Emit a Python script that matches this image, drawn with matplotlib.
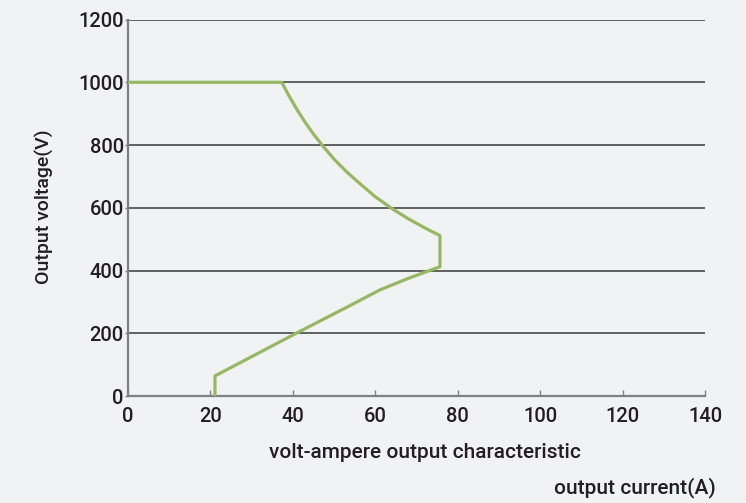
import matplotlib
matplotlib.use("Agg")
import matplotlib.pyplot as plt

# output current (A) vs output voltage (V)
current = [0, 37.3, 39.0, 41.0, 43.0, 45.0, 47.2, 50.0, 53.0, 56.0, 60.0, 64.2, 68.0, 72.0, 75.7,
           75.7, 68.0, 61.1, 53.1, 40.8, 33.7, 21.1, 21.1]
voltage = [1000, 1000, 958, 913, 872, 835, 798, 755, 715, 680, 635, 596, 565, 536, 511,
           412, 375, 338, 283, 200, 151, 64, 0]

x_ticks = [0, 20, 40, 60, 80, 100, 120, 140]
y_ticks = [0, 200, 400, 600, 800, 1000, 1200]

bg = "#f1f2f4"
green = "#97b863"
text_color = "#231f20"

plt.rcParams["font.family"] = ["Roboto", "DejaVu Sans"]

fig = plt.figure(figsize=(7.46, 5.03), dpi=100, facecolor=bg)
ax = fig.add_axes([0.1716, 0.2127, 0.945 - 0.1716, 0.9612 - 0.2127])
ax.set_facecolor(bg)

for y in y_ticks[1:]:
    ax.axhline(y, color="#3a3a3a", lw=1.1, zorder=1)

ax.plot(current, voltage, color=green, lw=2.3, zorder=3, solid_joinstyle="round")

ax.set_xlim(0, 140)
ax.set_ylim(0, 1200)
ax.set_xticks(x_ticks)
ax.set_yticks(y_ticks)

for s in ["top", "right"]:
    ax.spines[s].set_visible(False)
for s in ["left", "bottom"]:
    ax.spines[s].set_color("#808080")
    ax.spines[s].set_linewidth(1.6)

ax.tick_params(axis="x", direction="in", length=4, width=1, color="#808080",
               pad=8, labelsize=14.5, labelcolor=text_color)
ax.tick_params(axis="y", direction="out", length=2, width=1, color="#808080",
               pad=1, labelsize=14.5, labelcolor=text_color)
for lab in ax.get_xticklabels() + ax.get_yticklabels():
    lab.set_fontweight("medium")

fig.text(44 / 746, 1 - 207 / 503, "Output voltage(V)", rotation=90, ha="center", va="center",
         fontsize=14, fontweight="medium", color=text_color)
fig.text(425 / 746, 1 - 453 / 503, "volt-ampere output characteristic", ha="center", va="center",
         fontsize=15, fontweight="medium", color=text_color)
fig.text(716 / 746, 1 - 488 / 503, "output current(A)", ha="right", va="center",
         fontsize=15, fontweight="medium", color=text_color)

fig.savefig("out.png", dpi=100, facecolor=bg)
